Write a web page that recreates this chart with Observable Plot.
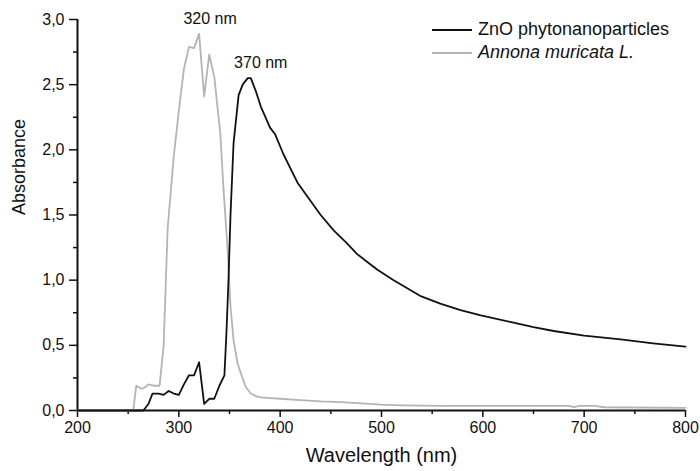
<!DOCTYPE html>
<html><head><meta charset="utf-8">
<script src="https://cdn.jsdelivr.net/npm/d3@7"></script>
<script src="https://cdn.jsdelivr.net/npm/@observablehq/plot@0.6"></script>
<style>
body{margin:0;background:#fff;font-family:"Liberation Sans",Arial,sans-serif;}
#wrap{position:relative;width:700px;height:471px;}
#legend{position:absolute;left:432px;top:18px;font-size:18px;color:#111;}
.row{display:flex;align-items:center;height:23px;white-space:nowrap;}
.sw{width:40px;height:0;margin-right:6px;}
</style></head>
<body><div id="wrap"><div id="legend"></div></div>
<script>
// ZnO phytonanoparticles (black)
const znoWavelength = [200,265,270,274,280,285,290,295,300,305,310,315,320,325,330,335,340,345,347,349,351,354,359,363,368,371,376,381,390,395,403,410,417,427,440,453,465,476,486,496,512,525,538,558,578,598,627,650,670,700,736,768,800];
const znoAbsorbance = [0,0,0.05,0.13,0.13,0.12,0.15,0.13,0.12,0.2,0.27,0.27,0.37,0.05,0.09,0.09,0.19,0.27,0.6,1.0,1.5,2.05,2.42,2.5,2.55,2.55,2.45,2.33,2.17,2.12,1.97,1.86,1.75,1.64,1.5,1.38,1.29,1.2,1.14,1.08,1.0,0.94,0.88,0.82,0.77,0.73,0.68,0.64,0.61,0.575,0.545,0.515,0.49];
// Annona muricata L. (grey)
const annonaWavelength = [200,255,258,262,265,270,275,281,285,289,295,300,305,310,315,320,325,330,335,341,344,348,351,354,358,361,366,371,376,381,390,400,420,440,460,480,500,520,560,600,650,685,690,695,710,720,800];
const annonaAbsorbance = [0,0,0.19,0.17,0.17,0.2,0.19,0.19,0.5,1.4,1.95,2.3,2.62,2.79,2.78,2.89,2.41,2.73,2.56,2.12,1.71,1.25,0.8,0.54,0.36,0.29,0.18,0.13,0.11,0.10,0.095,0.09,0.08,0.07,0.065,0.055,0.045,0.04,0.035,0.035,0.035,0.035,0.025,0.035,0.035,0.025,0.02];

const seriesNames = ["ZnO phytonanoparticles", "Annona muricata L."];
const seriesColors = ["#111111", "#b4b4b4"];

const peakLabels = ["320 nm", "370 nm"];
const peakWavelengths = [320, 370];
const peakAbsorbance = [2.89, 2.55];

const xTicks = [200, 300, 400, 500, 600, 700, 800];
const xMinorTicks = [250, 350, 450, 550, 650, 750];
const yTicks = [0, 0.5, 1.0, 1.5, 2.0, 2.5, 3.0];
const yMinorTicks = [0.25, 0.75, 1.25, 1.75, 2.25, 2.75];

const zno = znoWavelength.map((w, i) => ({w, a: znoAbsorbance[i]}));
const annona = annonaWavelength.map((w, i) => ({w, a: annonaAbsorbance[i]}));
const peaks = peakLabels.map((t, i) => ({t, w: peakWavelengths[i], a: peakAbsorbance[i]}));

const comma = d => d.toFixed(1).replace(".", ",");

const chart = Plot.plot({
  width: 700, height: 471,
  marginLeft: 77, marginRight: 15, marginTop: 19, marginBottom: 61,
  x: {domain: [200, 800]},
  y: {domain: [0, 3]},
  style: {fontFamily: '"Liberation Sans", Arial, sans-serif', fontSize: "16px", color: "#111", background: "#fff"},
  marks: [
    Plot.axisX(xTicks, {tickSize: 7, tickPadding: 4, fontSize: 16, strokeWidth: 1.5, label: null, tickFormat: d => String(d)}),
    Plot.axisX(xMinorTicks, {tickSize: 4, text: null, strokeWidth: 1.5, label: null}),
    Plot.axisY(yTicks, {tickSize: 8, tickPadding: 5, fontSize: 16, strokeWidth: 1.5, label: null, tickFormat: comma}),
    Plot.axisY(yMinorTicks, {tickSize: 4, text: null, strokeWidth: 1.5, label: null}),
    Plot.ruleY([0], {stroke: "#111", strokeWidth: 2}),
    Plot.ruleX([200], {stroke: "#111", strokeWidth: 2}),
    Plot.line(annona, {x: "w", y: "a", stroke: seriesColors[1], strokeWidth: 1.8}),
    Plot.line(zno, {x: "w", y: "a", stroke: seriesColors[0], strokeWidth: 1.8}),
    Plot.text(peaks, {x: "w", y: "a", text: "t", dx: 11, dy: -10, lineAnchor: "bottom", fontSize: 16, fill: "#111"}),
    Plot.text(["Wavelength (nm)"], {frameAnchor: "bottom", dy: 51, fontSize: 20, fill: "#111"}),
    Plot.text(["Absorbance"], {frameAnchor: "left", dx: -58, rotate: -90, fontSize: 18, fill: "#111"})
  ]
});
document.getElementById("wrap").prepend(chart);

const legend = document.getElementById("legend");
seriesNames.forEach((name, i) => {
  const row = document.createElement("div");
  row.className = "row";
  const sw = document.createElement("span");
  sw.className = "sw";
  sw.style.borderTop = `2px solid ${seriesColors[i]}`;
  const label = document.createElement("span");
  label.textContent = name;
  if (i === 1) label.style.fontStyle = "italic";
  row.append(sw, label);
  legend.append(row);
});
</script>
</body></html>
